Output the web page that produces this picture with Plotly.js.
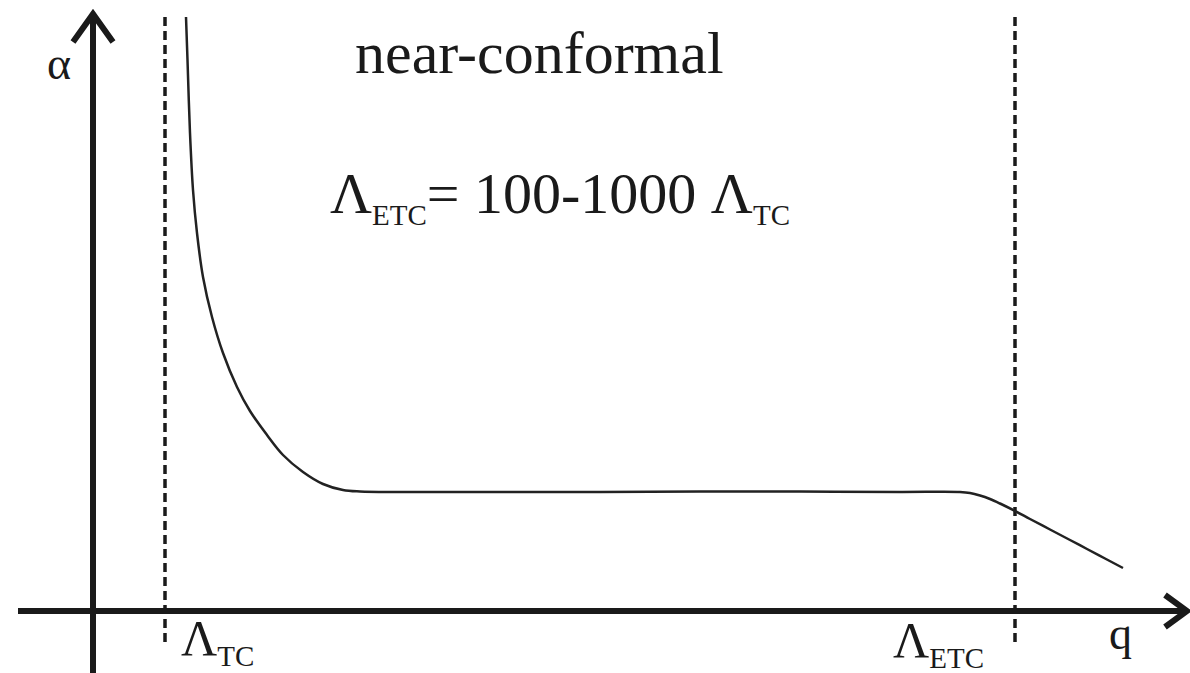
<!DOCTYPE html>
<html>
<head>
<meta charset="utf-8">
<script src="https://cdn.plot.ly/plotly-3.0.1.min.js"></script>
<style>html,body{margin:0;padding:0;background:#fff;}#chart{width:1190px;height:673px;}</style>
</head>
<body>
<div id="chart"></div>
<script>
// Coupling curve alpha(q): q and alpha in schematic units (origin at axes crossing)
var qValues = [93, 94.5, 97, 100, 104, 110, 119, 130, 144, 157, 174, 190, 210, 230, 250, 267, 307, 407, 507, 607, 707, 807, 867, 877, 887, 897, 907, 922, 937, 957, 977, 994, 1012, 1030];
var alphaValues = [594, 551, 478, 421, 378, 334, 294, 258, 224, 200, 176, 156, 139, 127, 121, 119.5, 119, 119, 119, 119.5, 119.5, 119, 119, 118, 115.5, 112, 107.5, 100, 92, 81.5, 71, 62, 52.5, 43];

// Scale markers (dashed verticals)
var scaleNames = ["Λ<sub><span style='font-size:29px'>TC</span></sub>", "Λ<sub><span style='font-size:29px'>ETC</span></sub>"];
var scalePositions = [72, 922];
var scaleLineRange = [-31, 596];

// Axis extents
var qAxisRange = [-75, 1094];
var alphaAxisRange = [-62, 597];

var ink = '#1a1a1a';
var serif = 'Liberation Serif, Times New Roman, serif';

var traces = [];
// dashed scale lines
for (var i = 0; i < scalePositions.length; i++) {
  traces.push({
    type: 'scatter', mode: 'lines',
    x: [scalePositions[i], scalePositions[i]],
    y: scaleLineRange,
    line: {color: ink, width: 3.5, dash: '9px,5px'},
    hoverinfo: 'skip'
  });
}
// curve
traces.push({
  type: 'scatter', mode: 'lines',
  x: qValues, y: alphaValues,
  line: {color: '#222', width: 2.5, shape: 'spline', smoothing: 1},
  hoverinfo: 'skip'
});

var ah = 22, aw = 16; // arrowhead size
var shapes = [
  {type: 'line', xref: 'x', yref: 'y', x0: qAxisRange[0], x1: qAxisRange[1], y0: 0, y1: 0, line: {color: ink, width: 6}},
  {type: 'line', xref: 'x', yref: 'y', x0: 0, x1: 0, y0: alphaAxisRange[0], y1: alphaAxisRange[1], line: {color: ink, width: 6}},
  {type: 'path', xref: 'x', yref: 'y',
   path: 'M ' + (-20) + ',' + (alphaAxisRange[1] - 28) + ' L 0,' + alphaAxisRange[1] + ' L 20,' + (alphaAxisRange[1] - 28),
   line: {color: ink, width: 6}},
  {type: 'path', xref: 'x', yref: 'y',
   path: 'M ' + (qAxisRange[1] - ah) + ',' + aw + ' L ' + qAxisRange[1] + ',0 L ' + (qAxisRange[1] - ah) + ',' + (-aw),
   line: {color: ink, width: 6}}
];

var annotations = [
  {x: -34, y: 548, xref: 'x', yref: 'y', text: 'α', showarrow: false,
   font: {family: serif, size: 46, color: ink}, xanchor: 'center', yanchor: 'middle'},
  {x: 1027, y: -22, xref: 'x', yref: 'y', text: 'q', showarrow: false,
   font: {family: serif, size: 46, color: ink}, xanchor: 'center', yanchor: 'middle'},
  {x: 446, y: 558, xref: 'x', yref: 'y', text: 'near-conformal', showarrow: false,
   font: {family: serif, size: 60, color: ink}, xanchor: 'center', yanchor: 'middle'},
  {x: 467, y: 415, xref: 'x', yref: 'y',
   text: "Λ<sub><span style='font-size:29px'>ETC</span></sub>= 100-1000 Λ<sub><span style='font-size:29px'>TC</span></sub>",
   showarrow: false, font: {family: serif, size: 58, color: ink}, xanchor: 'center', yanchor: 'middle'},
  {x: scalePositions[0] + 14, y: -30, xref: 'x', yref: 'y', text: scaleNames[0], showarrow: false,
   font: {family: serif, size: 50, color: ink}, xanchor: 'left', yanchor: 'middle'},
  {x: scalePositions[1] - 124, y: -32, xref: 'x', yref: 'y', text: scaleNames[1], showarrow: false,
   font: {family: serif, size: 50, color: ink}, xanchor: 'left', yanchor: 'middle'}
];

var layout = {
  width: 1190, height: 673,
  margin: {l: 0, r: 0, t: 0, b: 0, pad: 0},
  paper_bgcolor: '#fff', plot_bgcolor: '#fff',
  showlegend: false,
  xaxis: {range: [-93, 1097], visible: false, fixedrange: true},
  yaxis: {range: [-62, 611], visible: false, fixedrange: true},
  shapes: shapes,
  annotations: annotations
};

Plotly.newPlot('chart', traces, layout, {staticPlot: true, displayModeBar: false});
</script>
</body>
</html>
